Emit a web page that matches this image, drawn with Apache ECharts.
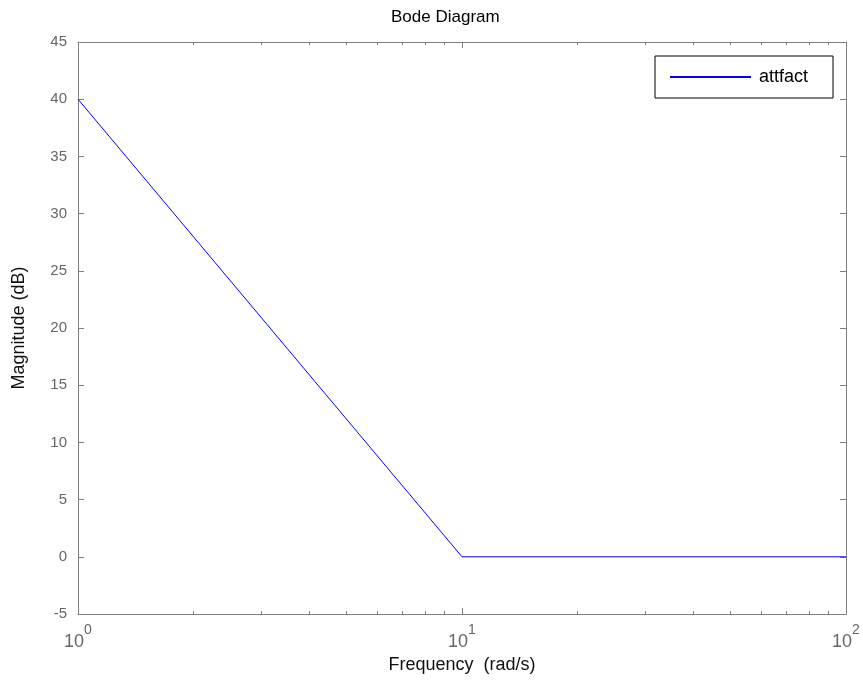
<!DOCTYPE html>
<html>
<head>
<meta charset="utf-8">
<script src="https://cdn.jsdelivr.net/npm/echarts@6/dist/echarts.min.js"></script>
<style>html,body{margin:0;padding:0;background:#fff}#c{width:863px;height:694px}</style>
</head>
<body>
<div id="c"></div>
<script>
// Data
const freq = [1, 10, 100];
const magnitude = [40, 0, 0];
const seriesName = 'attfact';
const yTicks = [-5, 0, 5, 10, 15, 20, 25, 30, 35, 40, 45];
const xMajor = [1, 10, 100];
const xMinor = [2, 3, 4, 5, 6, 7, 8, 9, 20, 30, 40, 50, 60, 70, 80, 90];
const titleText = 'Bode Diagram';
const xName = 'Frequency  (rad/s)';
const yName = 'Magnitude (dB)';

const AX = '#7f7f7f';
const FONT = '"Liberation Sans", Arial, sans-serif';
const chart = echarts.init(document.getElementById('c'), null, {renderer: 'canvas'});

function baseX(pos, extra) {
  return Object.assign({
    type: 'log', logBase: 10, min: 1, max: 100, position: pos,
    axisLine: {show: true, onZero: false, lineStyle: {color: AX, width: 1}},
    axisTick: {show: true, inside: true, length: 6, lineStyle: {color: AX}},
    axisLabel: {show: false},
    splitLine: {show: false}, minorTick: {show: false}, minorSplitLine: {show: false}
  }, extra || {});
}

const option = {
  animation: false,
  backgroundColor: '#fff',
  title: {
    text: titleText, left: 386, top: 4,
    textStyle: {fontFamily: FONT, fontSize: 17, fontWeight: 'normal', color: '#000'}
  },
  legend: {
    data: [{name: seriesName, icon: 'rect'}], left: 655, top: 56,
    orient: 'vertical',
    padding: [10, 25, 10, 15],
    borderColor: '#000', borderWidth: 1, backgroundColor: '#fff',
    itemWidth: 81, itemHeight: 2,
    textStyle: {fontFamily: FONT, fontSize: 18, color: '#000', padding: [0, 0, 0, 3], lineHeight: 22}
  },
  grid: {left: 78, right: 17, top: 42, bottom: 80, containLabel: false},
  xAxis: [
    baseX('bottom', {
      name: xName, nameLocation: 'middle', nameGap: 40,
      nameTextStyle: {fontFamily: FONT, fontSize: 18, color: '#111'},
      axisTick: {show: true, inside: true, length: 6, lineStyle: {color: AX}, customValues: xMajor},
      axisLabel: {
        show: true, margin: 9, customValues: xMajor,
        formatter: function (v) { return '{b|10}{s|' + Math.round(Math.log10(v)) + '}'; },
        rich: {
          b: {fontFamily: FONT, fontSize: 18, color: '#666', verticalAlign: 'bottom'},
          s: {fontFamily: FONT, fontSize: 14, color: '#666', padding: [0, 0, 14, 0]}
        }
      }
    }),
    baseX('bottom', {axisLine: {show: false, onZero: false}, axisTick: {show: true, inside: true, length: 3, lineStyle: {color: AX}, customValues: xMinor}}),
    baseX('top', {axisTick: {show: true, inside: true, length: 6, lineStyle: {color: AX}, customValues: xMajor}}),
    baseX('top', {axisLine: {show: false, onZero: false}, axisTick: {show: true, inside: true, length: 3, lineStyle: {color: AX}, customValues: xMinor}})
  ],
  yAxis: [
    {
      type: 'value', min: -5, max: 45, interval: 5, position: 'left',
      name: yName, nameLocation: 'middle', nameGap: 50,
      nameTextStyle: {fontFamily: FONT, fontSize: 18, color: '#111'},
      axisLine: {show: true, onZero: false, lineStyle: {color: AX}},
      axisTick: {show: true, inside: true, length: 6, lineStyle: {color: AX}},
      axisLabel: {show: true, margin: 11, fontFamily: FONT, fontSize: 15, color: '#666',
        customValues: yTicks},
      splitLine: {show: false}
    },
    {
      type: 'value', min: -5, max: 45, interval: 5, position: 'right',
      axisLine: {show: true, onZero: false, lineStyle: {color: AX}},
      axisTick: {show: true, inside: true, length: 6, lineStyle: {color: AX}},
      axisLabel: {show: false},
      splitLine: {show: false}
    }
  ],
  series: [{
    name: seriesName, type: 'line', xAxisIndex: 0, yAxisIndex: 0,
    data: freq.map((f, i) => [f, magnitude[i]]),
    showSymbol: false, symbol: 'none',
    lineStyle: {color: '#0000ff', width: 1},
    itemStyle: {color: '#0000ff'}
  }]
};
chart.setOption(option);
</script>
</body>
</html>
